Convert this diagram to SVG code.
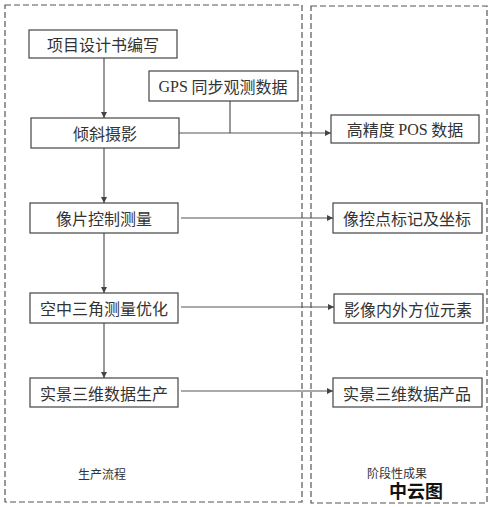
<svg xmlns="http://www.w3.org/2000/svg" width="492" height="507" viewBox="0 0 492 507">
<style>
.frame{fill:none;stroke:#555;stroke-width:1.2;stroke-dasharray:6,3}
.box{fill:#fff;stroke:#444;stroke-width:1.2}
.t{font-family:"Noto Sans CJK SC","Noto Sans CJK JP",sans-serif;font-size:16px;fill:#333;text-anchor:middle;dominant-baseline:central}
.lat{font-family:"Liberation Serif",serif}
.lbl{font-family:"Noto Sans CJK SC",sans-serif;font-size:12px;fill:#333;text-anchor:middle}
.ln{fill:none;stroke:#555;stroke-width:1.2}
</style>
<defs>
<marker id="ah" viewBox="0 0 8 8" refX="8" refY="4" markerWidth="6" markerHeight="6" orient="auto" markerUnits="userSpaceOnUse">
<path d="M0,0 L8,4 L0,8 Z" fill="#444"/>
</marker>
</defs>
<rect class="frame" x="5" y="5" width="297" height="497"/>
<rect class="frame" x="311" y="6" width="176" height="497"/>
<g id="connectors">
<path class="ln" d="M104,58 V118" marker-end="url(#ah)"/>
<path class="ln" d="M104,148 V203" marker-end="url(#ah)"/>
<path class="ln" d="M104,233 V293" marker-end="url(#ah)"/>
<path class="ln" d="M104,323 V378" marker-end="url(#ah)"/>
<path class="ln" d="M230,101 V133"/>
<path class="ln" d="M179,133 H331" marker-end="url(#ah)"/>
<path class="ln" d="M181,218 H333" marker-end="url(#ah)"/>
<path class="ln" d="M181,307 H334" marker-end="url(#ah)"/>
<path class="ln" d="M181,391 H333" marker-end="url(#ah)"/>
</g>
<g id="n1"><rect class="box" x="29" y="30" width="148" height="28"/><text class="t" x="103" y="44">项目设计书编写</text></g>
<g id="n2"><rect class="box" x="149" y="71" width="149" height="30"/><text class="t" x="223" y="86"><tspan class="lat">GPS</tspan> 同步观测数据</text></g>
<g id="n3"><rect class="box" x="31" y="118" width="148" height="30"/><text class="t" x="105" y="133">倾斜摄影</text></g>
<g id="n4"><rect class="box" x="331" y="115" width="148" height="28"/><text class="t" x="405" y="129">高精度 <tspan class="lat">POS</tspan> 数据</text></g>
<g id="n5"><rect class="box" x="30" y="203" width="148" height="30"/><text class="t" x="104" y="218">像片控制测量</text></g>
<g id="n6"><rect class="box" x="333" y="203" width="149" height="30"/><text class="t" x="407" y="218">像控点标记及坐标</text></g>
<g id="n7"><rect class="box" x="30" y="293" width="148" height="30"/><text class="t" x="104" y="308">空中三角测量优化</text></g>
<g id="n8"><rect class="box" x="334" y="294" width="149" height="29"/><text class="t" x="408" y="308.5">影像内外方位元素</text></g>
<g id="n9"><rect class="box" x="30" y="378" width="148" height="29"/><text class="t" x="104" y="392.5">实景三维数据生产</text></g>
<g id="n10"><rect class="box" x="333" y="378" width="149" height="29"/><text class="t" x="407" y="392.5">实景三维数据产品</text></g>
<text class="lbl" x="102" y="479">生产流程</text>
<text class="lbl" x="397" y="478">阶段性成果</text>
<text x="416" y="498" font-family="Noto Sans CJK SC,sans-serif" font-size="18" font-weight="bold" fill="#111" text-anchor="middle">中云图</text>
</svg>
